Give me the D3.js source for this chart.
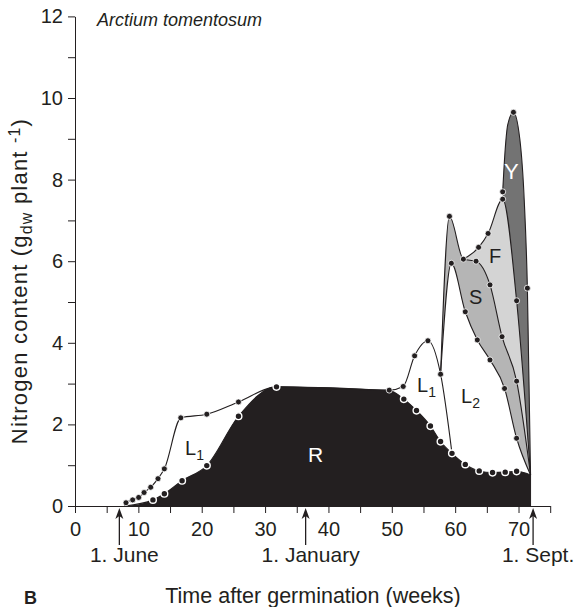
<!DOCTYPE html>
<html><head><meta charset="utf-8">
<script src="https://cdn.jsdelivr.net/npm/d3@7"></script>
<style>
body{margin:0;background:#fff}
svg{display:block}
text{font-family:"Liberation Sans",Arial,Helvetica,sans-serif;fill:#231f20}
</style>
</head><body><svg id="chart" width="580" height="607"></svg>
<script>
// ---------- data (weeks after germination, cumulative N content, g per plant) ----------
const titleText = "Arctium tomentosum";
const xTickValues = [0,5,10,15,20,25,30,35,40,45,50,55,60,65,70,75];
const xTickLabels = ["0","","10","","20","","30","","40","","50","","60","","70",""];
const yTickValues = [0,1,2,3,4,5,6,7,8,9,10,11,12];
const yTickLabels = ["0","","2","","4","","6","","8","","10","","12"];
const dateLabels = ["1. June","1. January","1. Sept."];
const dateWeeks = [7.0, 36.4, 72.3];

// R (top of black area)
const rWeeks  = [7.8, 12.3, 14.1, 16.9, 20.8, 25.8, 31.8, 49.6, 51.9, 53.9, 56.1, 57.7, 59.5, 61.6, 63.8, 65.9, 67.9, 69.7, 71.9];
const rValues = [0,   0.15, 0.30, 0.62, 0.99, 2.20, 2.92, 2.83, 2.62, 2.34, 1.96, 1.58, 1.29, 1.02, 0.86, 0.82, 0.83, 0.85, 0.76];
const rMarks  = [0,   1,    1,    1,    1,    1,    1,    0,    1,    1,    1,    1,    1,    1,    1,    1,    1,    1,    0];

// R + L1
const l1Weeks  = [7.8, 8.05, 9.1, 10.05, 10.9, 11.95, 13.1, 14.1, 16.7, 20.8, 25.8, 31.8, 49.6, 51.8, 53.6, 55.7, 57.7, 59.5];
const l1Values = [0,   0.08, 0.15, 0.21, 0.33, 0.46,  0.67, 0.91, 2.16, 2.25, 2.55, 2.92, 2.84, 2.93, 3.68, 4.05, 3.23, 1.29];
const l1Marks  = [0,   1,    1,    1,    1,    1,     1,    1,    1,    1,    1,    0,    1,    1,    1,    1,    1,    0];

// R + L2
const l2Weeks  = [57.7, 59.4, 61.6, 63.5, 65.5, 67.8, 69.7, 71.9];
const l2Values = [3.23, 5.95, 4.76, 4.07, 3.58, 2.88, 1.66, 0.76];
const l2Marks  = [0,    1,    1,    1,    1,    1,    1,    0];

// + S
const sWeeks  = [57.7, 59.1, 61.3, 63.3, 65.5, 67.4, 69.7, 71.9];
const sValues = [3.23, 7.10, 6.05, 6.00, 5.42, 4.15, 3.06, 0.76];
const sMarks  = [0,    1,    1,    1,    1,    1,    1,    0];

// + F
const fWeeks  = [61.3, 63.7, 65.2, 67.5, 69.7, 71.9];
const fValues = [6.05, 6.34, 6.68, 7.52, 5.03, 0.76];
const fMarks  = [0,    1,    1,    1,    1,    0];

// + Y (total)
const yWeeks  = [67.5, 67.9, 68.3, 69.2, 70.2, 70.9, 71.4, 71.9];
const yValues = [7.70, 8.75, 9.35, 9.65, 9.00, 7.50, 5.34, 0.76];
const yMarks  = [1,    0,    0,    1,    0,    0,    1,    0];

// ---------- drawing ----------
const svg = d3.select("#chart");
const x = d3.scaleLinear().domain([0, 75]).range([75, 550.2]);
const y = d3.scaleLinear().domain([0, 12]).range([506, 16.4]);
const ink = "#231f20";
const FONT = '"Liberation Sans", Arial, sans-serif';

function pts(w, v, m){ return w.map((d,i)=>({w:d, v:v[i], m:m[i]})); }
const layers = [
  {key:"Y",  data:pts(yWeeks, yValues, yMarks),  fill:"#737373"},
  {key:"F",  data:pts(fWeeks, fValues, fMarks),  fill:"#d4d4d4"},
  {key:"S",  data:pts(sWeeks, sValues, sMarks),  fill:"#b5b5b5"},
  {key:"L2", data:pts(l2Weeks, l2Values, l2Marks), fill:"#ffffff"},
  {key:"L1", data:pts(l1Weeks, l1Values, l1Marks), fill:"#ffffff"},
  {key:"R",  data:pts(rWeeks, rValues, rMarks),  fill:ink}
];

const curve = d3.curveMonotoneX;
const area = d3.area().x(d=>x(d.w)).y0(y(0)).y1(d=>y(d.v)).curve(curve);
const line = d3.line().x(d=>x(d.w)).y(d=>y(d.v)).curve(curve);

const gA = svg.append("g");
layers.forEach(L=>{
  gA.append("path").attr("d", area(L.data)).attr("fill", L.fill).attr("stroke","none");
});
layers.forEach(L=>{
  gA.append("path").attr("d", line(L.data)).attr("fill","none").attr("stroke", ink).attr("stroke-width",1.1);
});
gA.append("line").attr("x1", x(rWeeks[rWeeks.length-1])).attr("x2", x(rWeeks[rWeeks.length-1]))
  .attr("y1", y(0)).attr("y2", y(rValues[rValues.length-1])).attr("stroke", ink).attr("stroke-width",1);

// markers
layers.forEach(L=>{
  const isR = L.key === "R";
  gA.selectAll(null).data(L.data.filter(d=>d.m)).enter().append("circle")
    .attr("cx", d=>x(d.w)).attr("cy", d=>y(d.v))
    .attr("r", isR ? 3.4 : 3)
    .attr("fill", ink).attr("stroke", "#fff").attr("stroke-width", isR ? 1.4 : 0.8);
});

// axes
const yAxis = d3.axisLeft(y).tickValues(yTickValues).tickFormat((d,i)=>yTickLabels[i]).tickSize(7).tickSizeOuter(0).tickPadding(5);
const gy = svg.append("g").attr("transform", `translate(${x(0)},0)`).call(yAxis);
const xAxis = d3.axisBottom(x).tickValues(xTickValues).tickFormat((d,i)=>xTickLabels[i]).tickSize(7).tickSizeOuter(0).tickPadding(9);
const gx = svg.append("g").attr("transform", `translate(0,${y(0)})`).call(xAxis);
[gx, gy].forEach(g=>{
  g.selectAll("path, line").attr("stroke", ink).attr("stroke-width", 1);
  g.selectAll("text").attr("font-size", 20).attr("fill", ink).style("font-family", FONT);
});

// date arrows
const gD = svg.append("g");
dateWeeks.forEach((w,i)=>{
  const cx = x(w);
  gD.append("line").attr("x1",cx).attr("x2",cx).attr("y1",545).attr("y2",516).attr("stroke",ink).attr("stroke-width",1.3);
  gD.append("path").attr("d",`M${cx},${508} L${cx-4},${519} L${cx},${516} L${cx+4},${519} Z`).attr("fill",ink);
  gD.append("text").attr("x", cx+5).attr("y", 562).attr("text-anchor","middle").attr("font-size",21).text(dateLabels[i]);
});

// titles
svg.append("text").attr("x", 97).attr("y", 26).attr("font-size", 18).attr("font-style","italic").text(titleText);
svg.append("text").attr("x", 313).attr("y", 603).attr("text-anchor","middle").attr("font-size",21.5).text("Time after germination (weeks)");
svg.append("text").attr("x", 24).attr("y", 604).attr("font-size",18).attr("font-weight","bold").text("B");

const yt = svg.append("text").attr("transform","translate(27,281) rotate(-90)").attr("text-anchor","middle")
  .attr("font-size",22).style("letter-spacing","1.2px");
yt.append("tspan").text("Nitrogen content (g");
yt.append("tspan").attr("font-size",16).attr("dy",5).text("dw");
yt.append("tspan").attr("dy",-5).text(" plant ");
yt.append("tspan").attr("font-size",16).attr("dy",-7).text("-1");
yt.append("tspan").attr("dy",7).text(")");

// area labels
function lab(txt, sub, px, py, color, size){
  const t = svg.append("text").attr("x",px).attr("y",py).attr("font-size",size||20).style("fill", color||ink);
  t.append("tspan").text(txt);
  if(sub){ t.append("tspan").attr("font-size",14).attr("dy",5).text(sub); }
}
lab("L","1",185,455);
lab("R",null,308,462,"#ffffff",21);
lab("L","1",417,392);
lab("L","2",461,403);
lab("S",null,469,304);
lab("F",null,489,263);
lab("Y",null,504,179,"#ffffff",22);
</script>
</body></html>
